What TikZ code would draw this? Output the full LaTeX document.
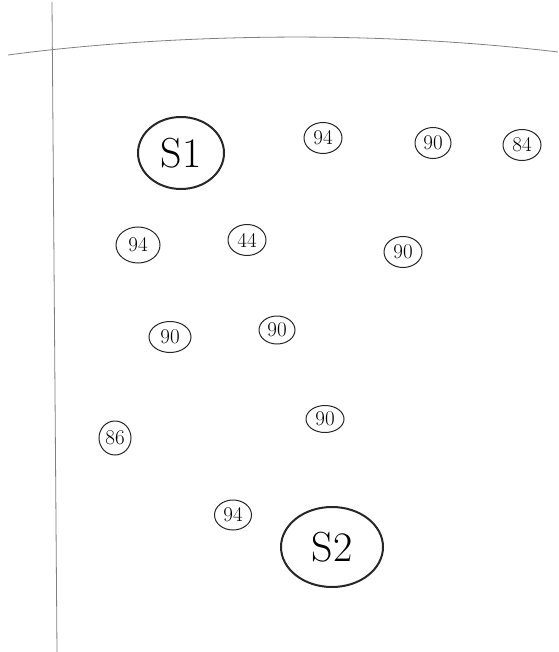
\documentclass[tikz,border=0pt]{standalone}
\usetikzlibrary{shapes.geometric}

\begin{document}
\begin{tikzpicture}[x=1pt, y=-1pt,
    axis/.style={draw=black!50, line width=0.8pt},
    score/.style={draw=black!85, ellipse, inner sep=0pt, line width=1pt,
                  minimum width=38pt, minimum height=31pt,
                  font=\fontsize{21}{21}\selectfont},
    seed/.style={draw=black!85, ellipse, inner sep=0pt, line width=2pt,
                 font=\fontsize{42}{42}\selectfont}
]
\useasboundingbox (0,0) rectangle (558,652);

% axes
\draw[axis] (52,2) -- (57,652);
\draw[axis] (8,55) .. controls (120,40) and (330,25) .. (558,52);

% seeds
\node[seed, minimum width=86pt, minimum height=72pt] (s1) at (181,153) {S1};
\node[seed, minimum width=102pt, minimum height=80pt] (s2) at (332,547) {S2};

% scores
\node[score] (a1) at (323,138) {94};
\node[score, minimum width=36pt] (a2) at (433,143) {90};
\node[score] (a3) at (522,145) {84};
\node[score, minimum width=44pt, minimum height=36pt] (b1) at (138,245) {94};
\node[score] (b2) at (247,240) {44};
\node[score] (b3) at (403,252) {90};
\node[score, minimum width=42pt] (c1) at (170,337) {90};
\node[score, minimum width=36pt, minimum height=28pt] (c2) at (277,330) {90};
\node[score, minimum width=32pt, minimum height=34pt] (d1) at (115,438) {86};
\node[score, minimum height=27pt] (d2) at (325,419) {90};
\node[score, minimum width=37pt, minimum height=30pt] (e1) at (233,515) {94};
\end{tikzpicture}
\end{document}
